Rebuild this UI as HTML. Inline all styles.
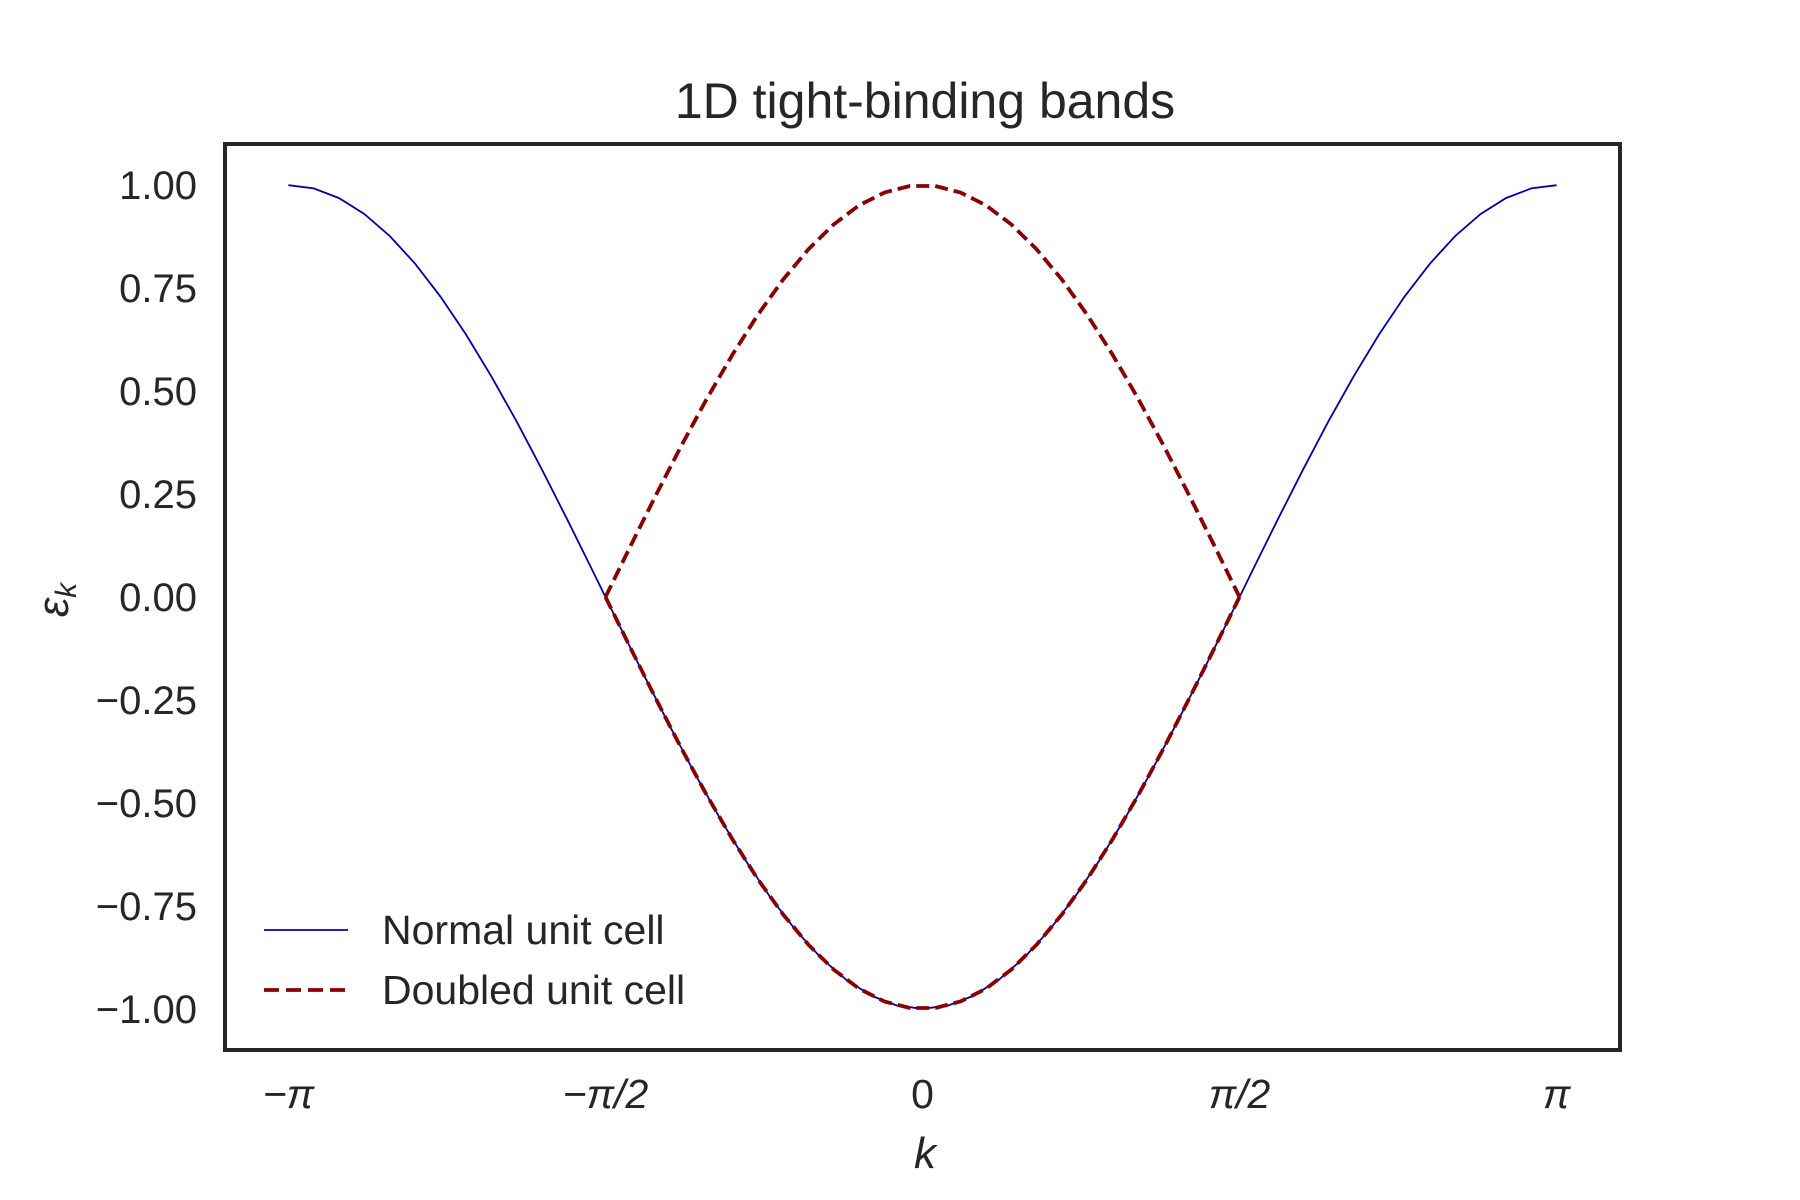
<!DOCTYPE html>
<html><head><meta charset="utf-8"><style>
html,body{margin:0;padding:0;background:#fff;}
svg{display:block;}
text{font-family:"Liberation Sans","DejaVu Sans",sans-serif;fill:#262626;}
</style></head><body>
<svg id="chart" width="1800" height="1200" viewBox="0 0 1800 1200">
<rect x="0" y="0" width="1800" height="1200" fill="#fff"/>
<text x="925" y="118" font-size="50" text-anchor="middle">1D tight-binding bands</text>
<g id="plot"></g>
</svg>
<script>
const xTickVals=[-Math.PI,-Math.PI/2,0,Math.PI/2,Math.PI];
const xTickLabels=["\u2212\u03c0","\u2212\u03c0/2","0","\u03c0/2","\u03c0"];
const yTickVals=[1,0.75,0.5,0.25,0,-0.25,-0.5,-0.75,-1];
const yTickLabels=["1.00","0.75","0.50","0.25","0.00","\u22120.25","\u22120.50","\u22120.75","\u22121.00"];
const normalValues=[1,0.9921,0.9686,0.9298,0.8763,0.8090,0.7290,0.6374,0.5358,0.4258,0.3090,0.1874,0.0628,-0.0628,-0.1874,-0.3090,-0.4258,-0.5358,-0.6374,-0.7290,-0.8090,-0.8763,-0.9298,-0.9686,-0.9921,-1,-0.9921,-0.9686,-0.9298,-0.8763,-0.8090,-0.7290,-0.6374,-0.5358,-0.4258,-0.3090,-0.1874,-0.0628,0.0628,0.1874,0.3090,0.4258,0.5358,0.6374,0.7290,0.8090,0.8763,0.9298,0.9686,0.9921,1];
const doubledUpper=[0,0.1253,0.2487,0.3681,0.4818,0.5878,0.6845,0.7705,0.8443,0.9048,0.9511,0.9823,0.9980,0.9980,0.9823,0.9511,0.9048,0.8443,0.7705,0.6845,0.5878,0.4818,0.3681,0.2487,0.1253,0];
const doubledLower=[0,-0.1253,-0.2487,-0.3681,-0.4818,-0.5878,-0.6845,-0.7705,-0.8443,-0.9048,-0.9511,-0.9823,-0.9980,-0.9980,-0.9823,-0.9511,-0.9048,-0.8443,-0.7705,-0.6845,-0.5878,-0.4818,-0.3681,-0.2487,-0.1253,0];
const normalK=normalValues.map((v,i)=>-Math.PI+i*2*Math.PI/(normalValues.length-1));
const doubledK=doubledUpper.map((v,i)=>-Math.PI/2+i*Math.PI/(doubledUpper.length-1));

const L=225,R=1620,T=144,B=1050;
const xmin=-Math.PI*1.1,xmax=Math.PI*1.1,ymin=-1.1,ymax=1.1;
const sx=v=>L+(v-xmin)/(xmax-xmin)*(R-L);
const sy=v=>B-(v-ymin)/(ymax-ymin)*(B-T);
const NS="http://www.w3.org/2000/svg";
const g=document.getElementById('plot');
function mk(tag,attrs,parent){const e=document.createElementNS(NS,tag);for(const k in attrs)e.setAttribute(k,attrs[k]);(parent||g).appendChild(e);return e;}

xTickVals.forEach((v,i)=>{
  const t=mk('text',{x:sx(v),y:1108,'font-size':41,'text-anchor':'middle','font-style':i===2?'normal':'italic'});
  
  
  t.textContent=xTickLabels[i];
});
yTickVals.forEach((v,i)=>{
  const t=mk('text',{x:197,y:sy(v)+14,'font-size':40,'text-anchor':'end'});
  
  
  t.textContent=yTickLabels[i];
});
const xl=mk('text',{x:925,y:1168,'font-size':44,'text-anchor':'middle','font-style':'italic'});


xl.textContent='k';
const yl=mk('text',{x:0,y:0,'font-size':44,'text-anchor':'middle','font-style':'italic',transform:'translate(68,600) rotate(-90)'});


yl.innerHTML='\u03b5<tspan font-size="30" dy="8">k</tspan>';

const pts=(xs,ys)=>xs.map((x,i)=>sx(x).toFixed(1)+','+sy(ys[i]).toFixed(1)).join(' ');
const n=mk('polyline',{points:pts(normalK,normalValues),fill:'none',stroke:'#0000aa','stroke-width':1.8});


const du=mk('polyline',{points:pts(doubledK,doubledUpper),fill:'none',stroke:'#8b0000','stroke-width':3.8,'stroke-dasharray':'13 6'});


const dl=mk('polyline',{points:pts(doubledK,doubledLower),fill:'none',stroke:'#8b0000','stroke-width':3.8,'stroke-dasharray':'13 6'});



const fr=mk('rect',{x:L,y:T,width:R-L,height:B-T,fill:'none',stroke:'#262626','stroke-width':4});



const lg=mk('g',{});


const l1=mk('line',{x1:264,y1:930,x2:348,y2:930,stroke:'#0000aa','stroke-width':1.8},lg);


const t1=mk('text',{x:382,y:944,'font-size':41},lg);


t1.textContent='Normal unit cell';
const l2=mk('line',{x1:264,y1:990,x2:348,y2:990,stroke:'#8b0000','stroke-width':3.8,'stroke-dasharray':'15 7'},lg);


const t2=mk('text',{x:382,y:1004,'font-size':41},lg);


t2.textContent='Doubled unit cell';
</script>
</body></html>
